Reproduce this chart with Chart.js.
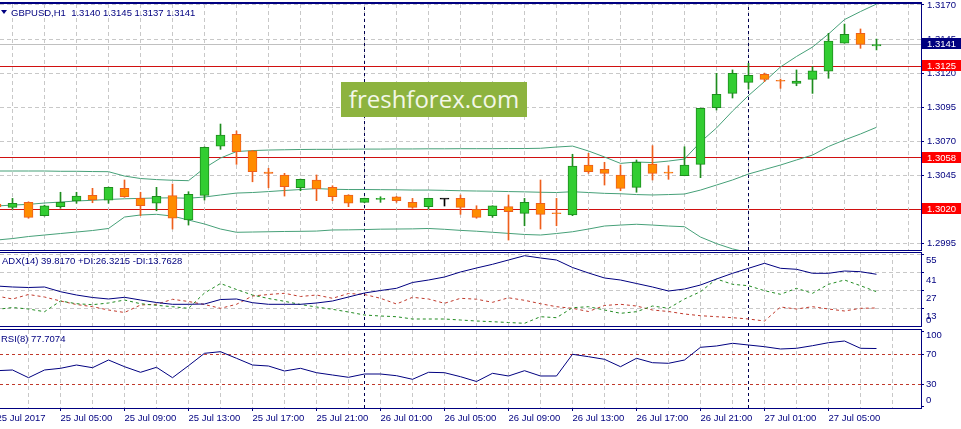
<!DOCTYPE html>
<html>
<head>
<meta charset="utf-8">
<title>GBPUSD H1</title>
<script src="https://cdn.jsdelivr.net/npm/chart.js@4.4.1/dist/chart.umd.min.js"></script>
<style>
  html, body { margin: 0; padding: 0; background: #fff; overflow: hidden; }
  #stage { position: relative; width: 961px; height: 429px; font-family: "Liberation Sans", Arial, sans-serif; }
  .pane { position: absolute; left: 0; width: 961px; }
  .cap { position: absolute; font-size: 9.5px; line-height: 11px; color: #000080; white-space: nowrap; }
  #tri { position: absolute; left: 1px; top: 10px; width: 0; height: 0;
         border-left: 3px solid transparent; border-right: 3px solid transparent; border-top: 4px solid #000080; }
  #wm { position: absolute; left: 341px; top: 82px; width: 186px; height: 35px; background: #8db33f;
        color: #f3f7e8; font: 24px "Open Sans", "Noto Sans", sans-serif; line-height: 34px; text-align: center; }
</style>
</head>
<body>
<div id="stage">
  <div class="pane" style="top:0;height:252px"><canvas id="mainChart"></canvas></div>
  <div class="pane" style="top:251px;height:77px"><canvas id="adxChart"></canvas></div>
  <div class="pane" style="top:328px;height:101px"><canvas id="rsiChart"></canvas></div>
  <div id="tri"></div>
  <div class="cap" style="left:11px;top:7px">GBPUSD,H1&nbsp; 1.3140 1.3145 1.3137 1.3141</div>
  <div class="cap" style="left:2px;top:255px">ADX(14) 39.8170 +DI:26.3215 -DI:13.7628</div>
  <div class="cap" style="left:1px;top:333px">RSI(8) 77.7074</div>
  <div id="wm">freshforex.com</div>
</div>
<script>
// bar i is the hour i+1 counted from 25 Jul 2017 00:00
const opens = [1.30239,1.30214,1.30251,1.30153,1.30219,1.30261,1.30302,1.30266,1.30354,1.30280,
  1.30244,1.30300,1.30121,1.30302,1.30664,1.30750,1.30630,1.30473,1.30452,1.30358,
  1.30415,1.30361,1.30305,1.30251,1.30273,1.30292,1.30251,1.30219,1.30275,1.30280,
  1.30200,1.30153,1.30219,1.30170,1.30244,1.30172,1.30158,1.30525,1.30493,1.30452,
  1.30361,1.30532,1.30471,1.30446,1.30530,1.30946,1.31051,1.31132,1.31191,1.31144,
  1.31125,1.31154,1.31215,1.31419,1.31492,1.31400];
const highs = [1.30260,1.30280,1.30255,1.30230,1.30325,1.30325,1.30354,1.30363,1.30415,1.30325,
  1.30361,1.30385,1.30329,1.30658,1.30826,1.30775,1.30632,1.30501,1.30464,1.30422,
  1.30452,1.30373,1.30307,1.30282,1.30292,1.30294,1.30280,1.30282,1.30275,1.30305,
  1.30226,1.30226,1.30305,1.30280,1.30415,1.30280,1.30604,1.30611,1.30545,1.30525,
  1.30562,1.30667,1.30520,1.30659,1.30943,1.31198,1.31223,1.31272,1.31200,1.31156,
  1.31223,1.31247,1.31492,1.31560,1.31524,1.31450];
const lows = [1.30200,1.30200,1.30134,1.30150,1.30207,1.30244,1.30248,1.30244,1.30288,1.30153,
  1.30189,1.30055,1.30084,1.30268,1.30640,1.30530,1.30402,1.30358,1.30297,1.30336,
  1.30263,1.30263,1.30219,1.30249,1.30251,1.30251,1.30207,1.30202,1.30224,1.30163,
  1.30134,1.30141,1.29974,1.30079,1.30055,1.30079,1.30153,1.30464,1.30378,1.30336,
  1.30325,1.30415,1.30420,1.30446,1.30432,1.30929,1.31017,1.31083,1.31137,1.31088,
  1.31107,1.31051,1.31162,1.31419,1.31382,1.31370];
const closes = [1.30217,1.30244,1.30141,1.30226,1.30251,1.30297,1.30268,1.30361,1.30292,1.30226,
  1.30295,1.30134,1.30310,1.30655,1.30745,1.30623,1.30476,1.30464,1.30366,1.30420,
  1.30349,1.30292,1.30244,1.30280,1.30277,1.30263,1.30214,1.30280,1.30275,1.30214,
  1.30141,1.30226,1.30182,1.30251,1.30163,1.30167,1.30518,1.30476,1.30464,1.30354,
  1.30545,1.30464,1.30466,1.30525,1.30941,1.31044,1.31198,1.31184,1.31154,1.31140,
  1.31142,1.31217,1.31435,1.31485,1.31411,1.31410];

const bbUpper = [1.30481,1.30481,1.30481,1.30481,1.30479,1.30479,1.30477,1.30476,1.30444,1.30426,
  1.30418,1.30413,1.30410,1.30503,1.30576,1.30624,1.30631,1.30635,1.30637,1.30639,
  1.30640,1.30640,1.30641,1.30642,1.30642,1.30643,1.30643,1.30644,1.30644,1.30645,
  1.30645,1.30645,1.30646,1.30646,1.30648,1.30657,1.30664,1.30628,1.30584,1.30537,
  1.30547,1.30543,1.30554,1.30569,1.30694,1.30797,1.30921,1.31035,1.31138,1.31245,
  1.31322,1.31391,1.31487,1.31593,1.31652,1.31707];
const bbMiddle = [1.30224,1.30231,1.30236,1.30246,1.30253,1.30261,1.30266,1.30272,1.30277,1.30280,
  1.30283,1.30284,1.30281,1.30290,1.30305,1.30319,1.30323,1.30330,1.30338,1.30345,
  1.30352,1.30347,1.30345,1.30345,1.30344,1.30343,1.30341,1.30341,1.30339,1.30336,
  1.30334,1.30333,1.30330,1.30328,1.30325,1.30323,1.30329,1.30323,1.30317,1.30314,
  1.30308,1.30305,1.30308,1.30312,1.30341,1.30378,1.30415,1.30459,1.30492,1.30525,
  1.30562,1.30598,1.30661,1.30709,1.30753,1.30802];
const bbLower = [1.29974,1.29985,1.30000,1.30011,1.30022,1.30033,1.30044,1.30059,1.30143,1.30158,
  1.30163,1.30150,1.30121,1.30092,1.30055,1.30031,1.30033,1.30035,1.30037,1.30038,
  1.30040,1.30048,1.30049,1.30051,1.30054,1.30055,1.30056,1.30059,1.30053,1.30045,
  1.30039,1.30031,1.30023,1.30015,1.30011,1.30022,1.30035,1.30055,1.30077,1.30084,
  1.30090,1.30084,1.30077,1.30072,1.29996,1.29948,1.29909,1.29883,1.29846,1.29805,
  1.29802,1.29805,1.29818,1.29832,1.29858,1.29897];

const adx = [30.75,29.98,29.59,29.98,26.34,23.79,21.86,20.70,22.01,19.92,
  17.99,16.60,16.60,16.83,20.31,20.70,17.84,16.60,16.60,16.60,
  17.60,19.15,22.24,25.34,27.27,28.97,33.46,35.39,37.71,41.58,
  44.67,47.53,50.86,54.19,52.41,50.86,45.06,40.81,36.94,35.39,
  32.68,29.98,26.88,28.43,31.52,36.16,40.57,44.44,48.31,44.44,
  43.67,40.57,40.57,42.35,41.81,39.82];
const plusDI = [12.58,14.12,12.96,10.88,19.15,17.06,16.29,17.60,19.92,17.06,
  15.83,14.74,13.50,25.34,32.68,28.04,23.79,21.08,18.92,16.44,
  14.51,12.73,10.64,8.32,7.55,7.01,5.23,5.23,5.23,4.46,
  3.68,3.14,2.52,1.90,7.01,6.24,13.97,14.74,12.19,9.64,
  10.88,15.28,13.50,20.70,26.34,36.16,32.07,30.98,27.12,24.33,
  28.97,25.11,32.07,35.39,30.98,26.32];
const minusDI = [23.02,20.70,24.18,22.24,19.15,16.44,14.74,12.19,10.26,16.06,
  16.60,20.47,18.76,16.44,13.50,16.60,23.02,24.18,25.11,22.63,
  23.79,21.24,24.95,24.18,21.24,16.83,22.01,20.70,17.37,21.24,
  20.54,18.14,21.63,19.69,17.06,14.74,13.50,11.03,15.67,16.60,
  15.28,12.19,11.03,9.10,7.78,7.01,6.24,5.23,3.68,14.51,
  12.96,14.74,12.96,11.42,13.50,13.76];
const rsi = [48.13,49.07,38.80,49.07,51.33,55.73,52.13,62.40,53.47,46.00,
  52.67,38.80,54.80,71.33,73.47,64.67,55.73,54.40,47.73,51.33,
  45.47,42.40,39.33,43.73,43.73,41.47,36.67,46.00,45.47,40.13,
  33.73,44.67,41.07,48.13,41.07,41.07,70.00,66.80,63.33,53.47,
  64.67,58.80,58.00,62.40,79.33,81.07,84.67,82.40,80.13,77.07,
  78.00,81.47,85.47,87.73,78.00,77.71];

const priceTicks = [1.2995, 1.3020, 1.3045, 1.3070, 1.3095, 1.3120, 1.3145, 1.3170];
const priceLevels = [1.3020, 1.3058, 1.3125];
const lastPrice = 1.3141;
const adxTicks = [0, 13, 27, 41, 55];
const rsiTicks = [0, 30, 70, 100];
const rsiLevels = [30, 70];
const dayBreaks = [24, 48];
const xTickHours = [1, 5, 9, 13, 17, 21, 25, 29, 33, 37, 41, 45, 49, 53];
const xTickLabels = ['25 Jul 2017', '25 Jul 05:00', '25 Jul 09:00', '25 Jul 13:00', '25 Jul 17:00',
  '25 Jul 21:00', '26 Jul 01:00', '26 Jul 05:00', '26 Jul 09:00', '26 Jul 13:00', '26 Jul 17:00',
  '26 Jul 21:00', '27 Jul 01:00', '27 Jul 05:00'];

const NAVY = '#000080';
const GRID = '#c8c8c8';
const LEVEL = '#d01010';
const BAND = '#46a078';
const FONT = '9.5px "Liberation Sans", Arial, sans-serif';
const X_MIN = 1.21875, X_MAX = 58.78125;

Chart.defaults.font.family = '"Liberation Sans", Arial, sans-serif';
Chart.defaults.font.size = 9.5;
Chart.defaults.color = NAVY;
Chart.defaults.animation = false;
Chart.defaults.plugins.legend.display = false;
Chart.defaults.plugins.tooltip.enabled = false;

const xLabelAt = {};
xTickHours.forEach((h, i) => { xLabelAt[h] = xTickLabels[i]; });

const pts = arr => arr.map((v, i) => ({ x: i + 1, y: v }));

function line(data, color, dash, order) {
  return { type: 'line', data, borderColor: color, borderWidth: 1, borderDash: dash || [],
           pointRadius: 0, tension: 0, order: order || 3 };
}
const vLine = (h, lo, hi) => line([{ x: h, y: lo }, { x: h, y: hi }], '#000050', [3, 3], 4);

function fixRight(s) { s.width = 40; s.paddingTop = 0; s.paddingBottom = 0; }

// extra hidden axis whose grid lines draw the horizontal levels (pixel-snapped)
function levelAxis(min, max, values, color, dash) {
  return {
    position: 'right', min, max,
    afterBuildTicks: s => { s.ticks = values.map(v => ({ value: v })); },
    afterFit: s => { s.width = 0; s.paddingTop = 0; s.paddingBottom = 0; },
    border: { display: false, dash: dash || [] },
    grid: { drawTicks: false, color },
    ticks: { display: false }
  };
}

function timeScale(withLabels) {
  return {
    type: 'linear', min: X_MIN, max: X_MAX, offset: false,
    afterBuildTicks: s => {
      const t = [];
      for (let h = 1; h <= 57; h += 2) t.push({ value: h });
      s.ticks = t;
    },
    afterFit: s => { s.height = withLabels ? 21 : 0; s.paddingLeft = 0; s.paddingRight = 0; },
    border: { display: false, dash: [4, 3] },
    grid: {
      color: GRID, drawTicks: withLabels, tickLength: 3, tickBorderDash: [],
      tickColor: c => (c.tick && xLabelAt[c.tick.value]) ? NAVY : 'rgba(0,0,0,0)'
    },
    ticks: { display: withLabels, align: 'start', maxRotation: 0, minRotation: 0, autoSkip: false,
             padding: 2, callback: v => xLabelAt[v] || '' }
  };
}

// navy panel frame: top, bottom and right edge of the plot area
const panelFrame = {
  id: 'panelFrame',
  afterDraw(chart, args, opts) {
    const { ctx, chartArea: a } = chart;
    ctx.save();
    ctx.strokeStyle = NAVY;
    ctx.lineWidth = 1;
    ctx.beginPath();
    const tops = opts.doubleTop ? [a.top - 0.5, a.top - 1.5] : [a.top - 0.5];
    for (const y of tops.concat([a.bottom + 0.5])) { ctx.moveTo(0, y); ctx.lineTo(a.right + 1, y); }
    ctx.moveTo(a.right + 0.5, a.top - 1); ctx.lineTo(a.right + 0.5, a.bottom + 1);
    ctx.stroke();
    ctx.restore();
  }
};

// right-side value labels for the indicator panes
const sideLabels = {
  id: 'sideLabels',
  afterDraw(chart, args, opts) {
    if (!opts.items) return;
    const { ctx, chartArea: a, scales: { y } } = chart;
    ctx.save();
    ctx.font = FONT;
    ctx.fillStyle = NAVY;
    ctx.textBaseline = 'middle';
    for (const it of opts.items) ctx.fillText(it.text, a.right + 5, y.getPixelForValue(it.value) + it.dy);
    ctx.restore();
  }
};

// coloured price boxes on the price scale
const priceTags = {
  id: 'priceTags',
  afterDraw(chart) {
    const { ctx, chartArea: a, scales: { y } } = chart;
    const tags = priceLevels.map(v => [v, '#ff0000']).concat([[lastPrice, NAVY]]);
    ctx.save();
    ctx.font = FONT;
    ctx.textBaseline = 'middle';
    for (const [v, bg] of tags) {
      const py = Math.round(y.getPixelForValue(v));
      ctx.fillStyle = bg;
      ctx.fillRect(a.right + 1, py - 6, chart.width - a.right - 1, 11);
      ctx.fillStyle = '#ffffff';
      ctx.fillText(v.toFixed(4), a.right + 6, py);
    }
    ctx.restore();
  }
};
Chart.register(panelFrame, sideLabels);

// ---- main price pane ----
const Y_MIN = 1.29901, Y_MAX = 1.317073;
const kind = opens.map((o, i) => closes[i] > o ? 1 : closes[i] < o ? -1 : 0);
const bodyFill = kind.map(k => k > 0 ? '#32cd32' : k < 0 ? '#ff8c00' : '#000000');
const edgeColor = kind.map(k => k > 0 ? '#1e8c1e' : k < 0 ? '#ee5f1c' : '#000000');

new Chart(document.getElementById('mainChart'), {
  type: 'bar',
  data: {
    datasets: [
      { label: 'body', data: opens.map((o, i) => ({ x: i + 1, y: [o, closes[i]] })),
        backgroundColor: bodyFill, borderColor: edgeColor, borderWidth: 1, borderSkipped: false,
        barThickness: 9, minBarLength: 1, grouped: false, order: 1 },
      { label: 'wick', data: lows.map((l, i) => ({ x: i + 1, y: [l, highs[i]] })),
        backgroundColor: edgeColor, borderWidth: 0, barThickness: 1, grouped: false, order: 2 },
      line(pts(bbUpper), BAND),
      line(pts(bbMiddle), BAND),
      line(pts(bbLower), BAND),
      ...dayBreaks.map(h => vLine(h, Y_MIN, Y_MAX))
    ]
  },
  options: {
    responsive: true, maintainAspectRatio: false,
    layout: { padding: { top: 4, bottom: 2, left: 0, right: 0 }, autoPadding: false },
    plugins: { panelFrame: { doubleTop: true } },
    scales: {
      lv: levelAxis(Y_MIN, Y_MAX, priceLevels.concat([lastPrice]),
                    c => c.tick && c.tick.value === lastPrice ? '#c0c0c0' : LEVEL),
      x: timeScale(false),
      y: {
        position: 'right', min: Y_MIN, max: Y_MAX,
        afterBuildTicks: s => { s.ticks = priceTicks.map(v => ({ value: v })); },
        afterFit: fixRight,
        border: { display: false, dash: [4, 3] },
        grid: { color: c => c.tick && priceLevels.includes(c.tick.value) ? 'rgba(0,0,0,0)' : GRID,
                tickLength: 3, tickColor: NAVY, tickBorderDash: [] },
        ticks: { padding: 3, color: NAVY, callback: v => v.toFixed(4) }
      }
    }
  },
  plugins: [priceTags]
});

// ---- ADX pane ----
const A_MIN = -0.18, A_MAX = 56.27;
new Chart(document.getElementById('adxChart'), {
  type: 'line',
  data: {
    datasets: [
      line(pts(adx), NAVY, [], 1),
      line(pts(plusDI), '#228b22', [3, 3], 2),
      line(pts(minusDI), '#c0392b', [3, 3], 2),
      ...dayBreaks.map(h => vLine(h, A_MIN, A_MAX))
    ]
  },
  options: {
    responsive: true, maintainAspectRatio: false,
    layout: { padding: { top: 2, bottom: 2, left: 0, right: 0 }, autoPadding: false },
    plugins: {
      sideLabels: { items: adxTicks.map(v => ({ value: v, text: String(v), dy: v === 0 ? -5 : v === 55 ? 5.5 : 7.5 })) }
    },
    scales: {
      x: timeScale(false),
      y: {
        position: 'right', min: A_MIN, max: A_MAX,
        afterBuildTicks: s => { s.ticks = adxTicks.filter(v => v > 0).map(v => ({ value: v })); },
        afterFit: fixRight,
        border: { display: false, dash: [4, 3] },
        grid: { color: GRID, tickLength: 3, tickColor: NAVY, tickBorderDash: [] },
        ticks: { display: false }
      }
    }
  }
});

// ---- RSI pane ----
const R_MIN = -1.6, R_MAX = 102.4;
new Chart(document.getElementById('rsiChart'), {
  type: 'line',
  data: {
    datasets: [
      line(pts(rsi), NAVY, [], 1),
      ...dayBreaks.map(h => vLine(h, R_MIN, R_MAX))
    ]
  },
  options: {
    responsive: true, maintainAspectRatio: false,
    layout: { padding: { top: 2, bottom: 0, left: 0, right: 0 }, autoPadding: false },
    plugins: {
      sideLabels: { items: rsiTicks.map(v => ({ value: v, text: String(v), dy: v === 100 ? 4 : v === 0 ? -6 : 0 })) }
    },
    scales: {
      x: timeScale(true),
      y: {
        position: 'right', min: R_MIN, max: R_MAX,
        afterBuildTicks: s => { s.ticks = rsiTicks.map(v => ({ value: v })); },
        afterFit: fixRight,
        border: { display: false },
        grid: { drawOnChartArea: false, tickLength: 3, tickColor: NAVY },
        ticks: { display: false }
      },
      lv: levelAxis(R_MIN, R_MAX, rsiLevels, '#c0392b', [3, 3])
    }
  }
});
</script>
</body>
</html>
